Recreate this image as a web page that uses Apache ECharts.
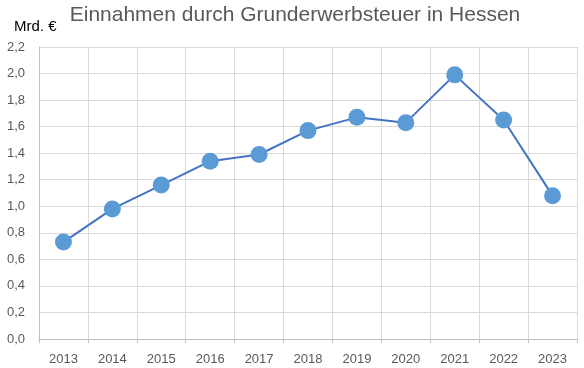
<!DOCTYPE html>
<html><head><meta charset="utf-8">
<script src="https://cdn.jsdelivr.net/npm/echarts@6/dist/echarts.min.js"></script>
<style>html,body{margin:0;padding:0;background:#fff}#c{width:584px;height:368px}</style>
</head><body><div id="c"></div>
<script>
const titleText = 'Einnahmen durch Grunderwerbsteuer in Hessen';
const unitLabel = 'Mrd. €';
const years = ['2013','2014','2015','2016','2017','2018','2019','2020','2021','2022','2023'];
const revenue = [0.73, 0.98, 1.16, 1.34, 1.39, 1.57, 1.67, 1.63, 1.99, 1.65, 1.08];
const yMin = 0, yMax = 2.2, yStep = 0.2;

const FONT = 'Liberation Sans';
const chart = echarts.init(document.getElementById('c'));
chart.setOption({
  animation: false,
  textStyle: {fontFamily: FONT},
  title: [
    {text: titleText, left: 290, top: 0, textAlign: 'center',
     textStyle: {fontFamily: FONT, fontSize: 21, fontWeight: 'normal', color: '#595959'}},
    {text: unitLabel, left: 9, top: 14,
     textStyle: {fontFamily: FONT, fontSize: 15, fontWeight: 'normal', color: '#000000'}}
  ],
  grid: {left: 39, right: 7, top: 47, bottom: 29, containLabel: false},
  xAxis: {
    type: 'category', data: years, boundaryGap: true,
    axisLine: {lineStyle: {color: '#bfbfbf', width: 1}},
    axisTick: {show: true, length: 4, lineStyle: {color: '#bfbfbf'}},
    axisLabel: {color: '#595959', fontSize: 13, margin: 14, fontFamily: FONT},
    splitLine: {show: true, lineStyle: {color: '#d9d9d9', width: 1}}
  },
  yAxis: {
    type: 'value', min: yMin, max: yMax, interval: yStep,
    axisLine: {show: true, lineStyle: {color: '#bfbfbf'}},
    axisTick: {show: false},
    axisLabel: {color: '#595959', fontSize: 13, margin: 14, fontFamily: FONT,
      formatter: v => v.toFixed(1).replace('.', ',')},
    splitLine: {show: true, lineStyle: {color: '#d9d9d9', width: 1}}
  },
  series: [{
    type: 'line', data: revenue,
    symbol: 'circle', symbolSize: 17,
    lineStyle: {color: '#4472C4', width: 2},
    itemStyle: {color: '#5B9BD5'}
  }]
});
</script></body></html>
